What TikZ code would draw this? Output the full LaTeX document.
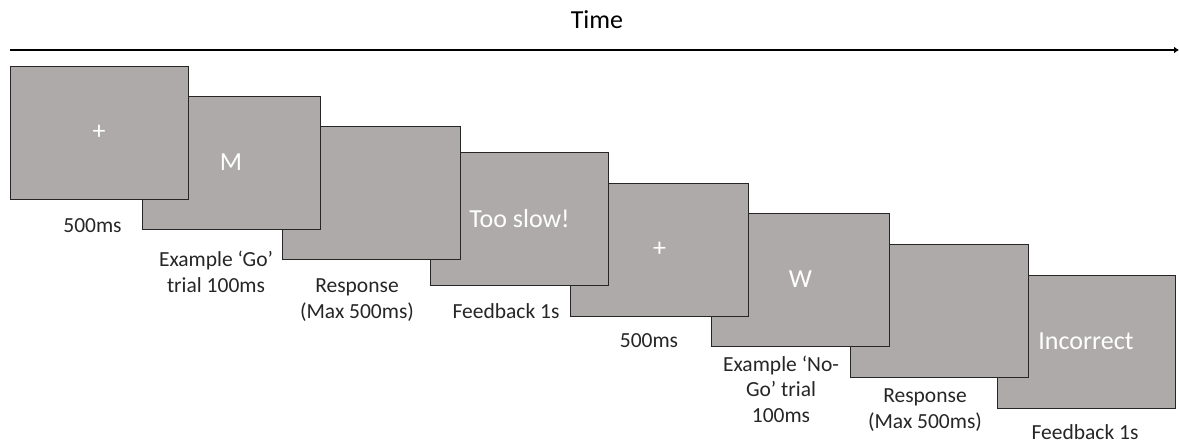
\documentclass[tikz,border=0pt]{standalone}
\usepackage{fontspec}
\setmainfont{Carlito}
\usetikzlibrary{arrows.meta}
\definecolor{boxfill}{HTML}{AEAAAA}
\definecolor{boxline}{HTML}{262626}
\definecolor{labeltext}{HTML}{262626}
\tikzset{
  screen/.style={rectangle, draw=boxline, fill=boxfill, line width=1pt,
    minimum width=178pt, minimum height=133pt, inner sep=0pt,
    text=white, font=\fontsize{26}{30}\selectfont},
  caption/.style={anchor=base, align=center, text=labeltext, inner sep=0pt,
    font=\fontsize{21.5}{25.5}\selectfont},
  timeline/.style={line width=2.5pt, -{Latex[length=5pt,width=7pt]}}
}
\begin{document}
\begin{tikzpicture}[x=1pt,y=-1pt]
\useasboundingbox (0,0) rectangle (1179,445);
\node[anchor=base, inner sep=0pt, text=black, font=\fontsize{26}{30}\selectfont] (time) at (597,28) {Time};
\coordinate (tstart) at (10,50);
\coordinate (tend) at (1179,50);
\draw[timeline] (tstart) -- (tend);
% screens, last first so earlier ones lie on top
\node[screen] (b8) at (1086,341.5) {Incorrect};
\node[screen] (b7) at (939,311) {};
\node[screen] (b6) at (800.5,279.5) {W};
\node[screen] (b5) at (659.5,249.5) {+};
\node[screen] (b4) at (519.5,218.5) {Too slow!};
\node[screen] (b3) at (371.5,192.5) {};
\node[screen] (b2) at (231,162.5) {M};
\node[screen] (b1) at (99,132.5) {+};
% captions (anchor base = baseline of the last line)
\node[caption] (l1) at (92.5,232) {500ms};
\node[caption] (l2) at (216,292) {Example ‘Go’\\trial 100ms};
\node[caption] (l3) at (357,318) {Response\\(Max 500ms)};
\node[caption] (l4) at (506,318) {Feedback 1s};
\node[caption] (l5) at (649,347) {500ms};
\node[caption] (l6) at (781,422) {Example ‘No-\\Go’ trial\\100ms};
\node[caption] (l7) at (925,428) {Response\\(Max 500ms)};
\node[caption] (l8) at (1085,439) {Feedback 1s};
\end{tikzpicture}
\end{document}
